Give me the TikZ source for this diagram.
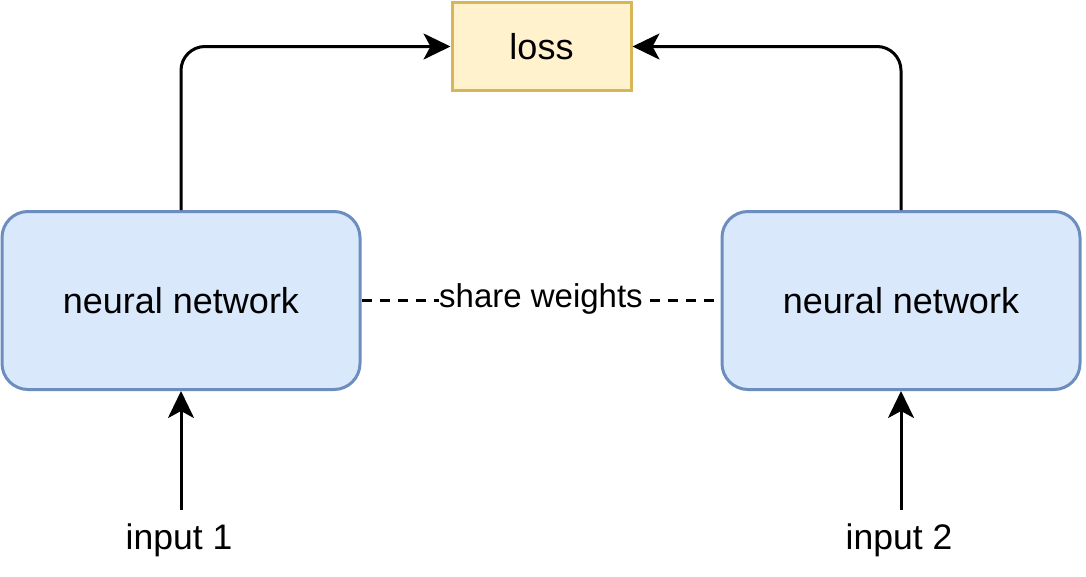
\documentclass[tikz,border=0pt]{standalone}
\usepackage{fontspec}
\setmainfont{Liberation Sans}
\usetikzlibrary{arrows.meta}
\definecolor{nnfill}{HTML}{DAE8FC}
\definecolor{nndraw}{HTML}{6C8EBF}
\definecolor{lossfill}{HTML}{FFF2CC}
\definecolor{lossdraw}{HTML}{D6B656}
\tikzset{
  nnbox/.style={draw=nndraw, fill=nnfill, line width=3pt, rounded corners=26pt,
    minimum width=358pt, minimum height=178pt, inner sep=0pt,
    font=\fontsize{36}{43}\selectfont},
  lossbox/.style={draw=lossdraw, fill=lossfill, line width=3pt,
    minimum width=179pt, minimum height=88pt, inner sep=0pt,
    font=\fontsize{36}{43}\selectfont},
  txt/.style={font=\fontsize{35.5}{43}\selectfont, inner sep=0pt},
  arr/.style={line width=3pt, -{Stealth[length=27pt, width=26pt, inset=7pt]}},
  dashline/.style={line width=2.5pt, dash pattern=on 10pt off 8pt},
}
\begin{document}
\begin{tikzpicture}[x=1pt, y=-1pt]
\useasboundingbox (0,0) rectangle (1086,576);
\node[lossbox] (loss) at (541.5,46.5) {loss};
\node[nnbox] (nn1) at (181,300.5) {neural network};
\node[nnbox] (nn2) at (901,300.5) {neural network};
\node[txt] (in1) at (179,540) {input 1};
\node[txt] (in2) at (899,540) {input 2};
\coordinate (s1) at (181,510);
\coordinate (s2) at (901,510);
\draw[arr] (s1) -- (nn1.south);
\draw[arr] (s2) -- (nn2.south);
\draw[arr, rounded corners=24pt] (nn1.north) |- (loss.west);
\draw[arr, rounded corners=24pt] (nn2.north) |- (loss.east);
\draw[dashline] (nn1.east) -- (nn2.west)
  node[midway, fill=white, inner sep=0.5pt, font=\fontsize{33}{40}\selectfont, yshift=2pt] (sw) {share weights};
\end{tikzpicture}
\end{document}
